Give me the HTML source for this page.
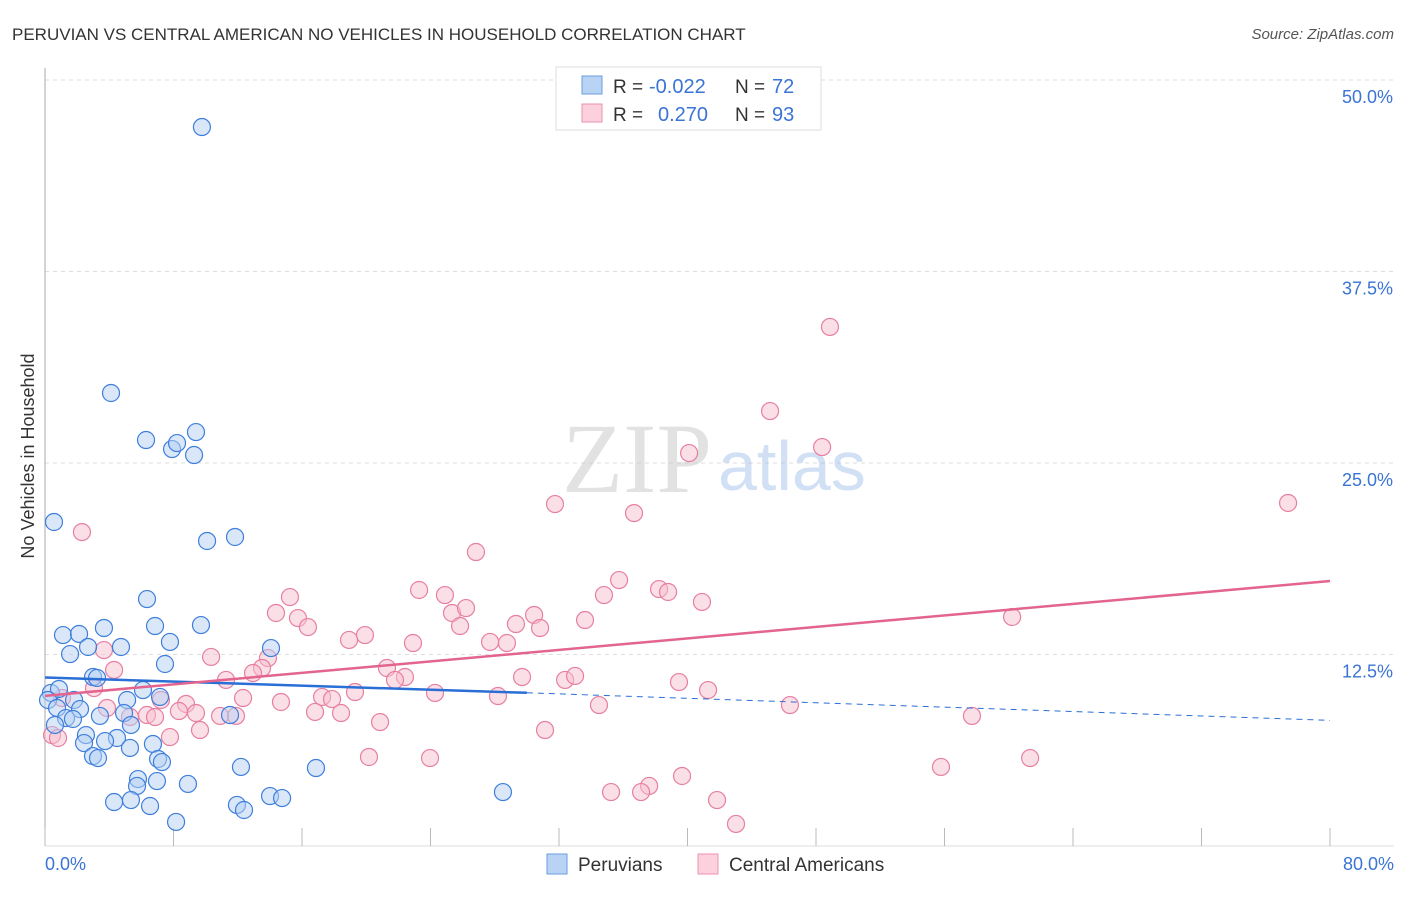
<!DOCTYPE html>
<html><head><meta charset="utf-8"><style>
body{margin:0;background:#fff;font-family:"Liberation Sans",sans-serif;}
</style></head><body>
<svg width="1406" height="892" xmlns="http://www.w3.org/2000/svg" font-family="Liberation Sans, sans-serif">
<text x="12" y="40" font-size="17" fill="#333">PERUVIAN VS CENTRAL AMERICAN NO VEHICLES IN HOUSEHOLD CORRELATION CHART</text>
<text x="1394" y="39" font-size="15" fill="#555" font-style="italic" text-anchor="end">Source: ZipAtlas.com</text>
<g id="grid"></g>
<text x="712" y="492" font-size="100" fill="#ccc" opacity="0.55" text-anchor="end" font-family="Liberation Serif, serif">ZIP</text>
<text x="718" y="490" font-size="70" fill="#9bbbe8" opacity="0.45">atlas</text>
<line x1="45" y1="68" x2="45" y2="846" stroke="#aaa"/>
<line x1="45" y1="846" x2="1394" y2="846" stroke="#ddd"/>
<g id="xt"></g>
<text x="45" y="870" font-size="18" fill="#3a74d4">0.0%</text>
<text x="1394" y="870" font-size="18" fill="#3a74d4" text-anchor="end">80.0%</text>
<text transform="translate(34,456) rotate(-90)" font-size="18" fill="#333" text-anchor="middle">No Vehicles in Household</text>
<g id="pts"></g>
<g id="lines"></g>
<g>
<rect x="556" y="67" width="265" height="63" fill="#fff" stroke="#ddd"/>
<rect x="582" y="76" width="20" height="18" fill="#b9d3f5" stroke="#6b9de0"/>
<rect x="582" y="104" width="20" height="18" fill="#fcd0dc" stroke="#eb92ae"/>
<text x="613" y="93" font-size="19" fill="#333">R =</text>
<text x="649" y="93" font-size="20" fill="#3a74d4">-0.022</text>
<text x="735" y="93" font-size="19" fill="#333">N =</text>
<text x="772" y="93" font-size="20" fill="#3a74d4">72</text>
<text x="613" y="121" font-size="19" fill="#333">R =</text>
<text x="658" y="121" font-size="20" fill="#3a74d4">0.270</text>
<text x="735" y="121" font-size="19" fill="#333">N =</text>
<text x="772" y="121" font-size="20" fill="#3a74d4">93</text>
</g>
<g>
<rect x="547" y="854" width="20" height="20" fill="#b9d3f5" stroke="#6b9de0"/>
<text x="578" y="871" font-size="19" fill="#333">Peruvians</text>
<rect x="698" y="854" width="20" height="20" fill="#fcd0dc" stroke="#eb92ae"/>
<text x="729" y="871" font-size="19" fill="#333">Central Americans</text>
</g>
</svg>
<script>
const yTicks=[12.5,25,37.5,50];
const yTickLabels=["12.5%","25.0%","37.5%","50.0%"];
const xTicks=[0,8,16,24,32,40,48,56,64,72,80];
const blueX=[9.77,4.11,6.29,7.91,8.22,9.40,9.28,0.56,10.09,11.83,6.35,6.85,9.71,1.12,2.12,3.67,7.78,4.73,14.07,1.56,2.68,7.47,2.99,3.24,0.37,0.87,6.10,7.16,0.19,0.75,1.81,2.18,3.42,5.11,4.92,1.31,1.74,0.62,5.35,2.55,4.48,6.72,2.43,3.74,5.29,2.99,3.30,7.04,7.28,12.20,16.87,5.79,5.73,6.97,8.90,5.35,4.30,6.54,11.95,12.39,14.01,14.76,28.51,8.16,11.52];
const blueY=[46.93,29.57,26.50,25.91,26.30,27.02,25.52,21.15,19.91,20.17,16.12,14.36,14.42,13.77,13.84,14.23,13.32,12.99,12.92,12.53,12.99,11.88,11.03,10.97,9.99,10.25,10.18,9.73,9.53,9.01,9.53,8.94,8.49,9.53,8.68,8.35,8.29,7.90,7.90,7.24,7.05,6.66,6.72,6.85,6.40,5.87,5.74,5.68,5.48,5.16,5.09,4.37,3.92,4.24,4.05,3.00,2.87,2.61,2.68,2.35,3.26,3.13,3.52,1.57,8.55];
const pinkX=[48.87,45.14,40.10,48.38,77.39,31.75,36.67,2.30,26.83,35.74,23.29,24.90,38.23,38.79,34.80,15.25,40.90,14.38,15.75,25.34,26.21,30.45,16.37,33.62,29.32,30.82,25.84,19.92,18.93,22.91,27.71,28.76,60.21,10.34,4.30,3.67,13.88,13.51,12.95,21.29,22.41,29.70,32.38,33.00,11.27,21.79,39.47,3.05,12.33,14.69,17.25,17.87,19.30,24.28,28.20,41.28,1.06,3.86,8.78,7.22,34.49,46.38,8.34,9.40,16.81,18.43,10.90,11.89,6.35,6.85,5.29,57.71,20.86,9.65,31.13,7.78,0.44,0.81,20.17,23.97,61.33,55.78,39.66,37.61,35.24,37.11,41.84,43.02];
const pinkY=[33.88,28.39,25.65,26.04,22.39,22.32,21.73,20.49,19.19,17.36,16.71,16.38,16.77,16.58,16.38,16.25,15.93,15.21,14.88,15.21,15.53,15.08,14.29,14.75,14.49,14.23,14.36,13.77,13.45,13.25,13.32,13.25,14.95,12.34,11.49,12.79,12.27,11.62,11.29,11.62,11.03,11.03,10.84,11.10,10.84,10.84,10.70,10.31,9.66,9.40,9.73,9.59,10.05,9.99,9.79,10.18,9.66,9.01,9.27,9.53,9.20,9.20,8.81,8.68,8.75,8.68,8.49,8.49,8.55,8.42,8.42,8.49,8.09,7.57,7.57,7.11,7.24,7.05,5.81,5.74,5.74,5.16,4.57,3.92,3.52,3.52,3.00,1.44];
const blueTrend=[[0,11.0],[30,10.0],[80,8.2]];
const pinkTrend=[[0,9.8],[80,17.3]];
const sx=v=>45+v/80*1285, sy=v=>846-v/50*766;
const NS="http://www.w3.org/2000/svg";
function mk(t,a,parent){const e=document.createElementNS(NS,t);for(const k in a)e.setAttribute(k,a[k]);document.getElementById(parent).appendChild(e);return e;}
yTicks.forEach((t,i)=>{
 const l=mk('line',{x1:45,x2:1394,y1:sy(t),y2:sy(t),stroke:'#ddd','stroke-dasharray':'4,4'},'grid');
 
 
 const tx=mk('text',{x:1393,y:sy(t)+23,'font-size':18,fill:'#3a74d4','text-anchor':'end'},'grid');
 tx.textContent=yTickLabels[i];
 
 
});
xTicks.forEach(t=>{
 const l=mk('line',{x1:sx(t),x2:sx(t),y1:828,y2:846,stroke:'#bbb'},'xt');
 
 
});
function dots(X,Y,fill,stroke){
 X.forEach((x,i)=>{
  const c=mk('circle',{cx:sx(x),cy:sy(Y[i]),r:8.5,fill:fill,'fill-opacity':0.5,stroke:stroke,'stroke-width':1.2},'pts');
  
  
 });
}
dots(pinkX,pinkY,'#f8bfd0','#e77fa1');
dots(blueX,blueY,'#b3cff3','#3f7fdc');
let ln=mk('line',{x1:sx(blueTrend[0][0]),y1:sy(blueTrend[0][1]),x2:sx(blueTrend[1][0]),y2:sy(blueTrend[1][1]),stroke:'#2a6fd6','stroke-width':2.5},'lines');


ln=mk('line',{x1:sx(blueTrend[1][0]),y1:sy(blueTrend[1][1]),x2:sx(blueTrend[2][0]),y2:sy(blueTrend[2][1]),stroke:'#2a6fd6','stroke-width':1,'stroke-dasharray':'6,5'},'lines');


ln=mk('line',{x1:sx(pinkTrend[0][0]),y1:sy(pinkTrend[0][1]),x2:sx(pinkTrend[1][0]),y2:sy(pinkTrend[1][1]),stroke:'#e3648f','stroke-width':2.5},'lines');


</script>
</body></html>
